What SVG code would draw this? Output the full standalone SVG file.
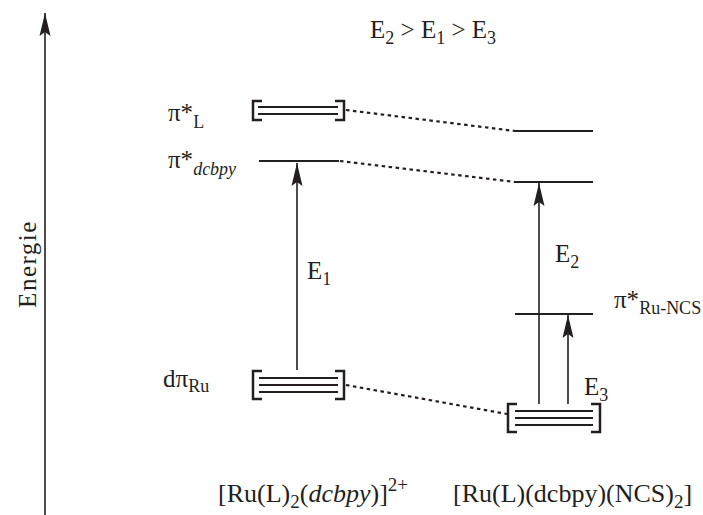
<svg xmlns="http://www.w3.org/2000/svg" width="703" height="515" viewBox="0 0 703 515">
<style>
text{font-family:"Liberation Serif","Times New Roman",serif;font-size:25px;fill:#231f20}
.lvl{stroke:#231f20;stroke-width:2;fill:none}
.br{stroke:#231f20;stroke-width:2.5;fill:none}
.dot{stroke:#231f20;stroke-width:2.2;stroke-dasharray:3.5 3.5;fill:none}
.arr{stroke:#231f20;stroke-width:1.6;fill:none;marker-end:url(#ah)}
.sub{font-size:18px}
.lab{font-size:26px}
.lab .sub{font-size:19px}
</style>
<defs>
<marker id="ah" markerUnits="userSpaceOnUse" markerWidth="26" markerHeight="14" viewBox="-24 -7 26 14" refX="0" refY="0" orient="auto">
<path d="M0,0 L-23,-5.5 L-19,0 L-23,5.5 z" fill="#231f20"/>
</marker>
</defs>
<g id="axis">
<line class="arr" x1="45" y1="515" x2="45" y2="13"/>
<text transform="translate(36,264) rotate(-90)" text-anchor="middle" font-size="26" letter-spacing="1.5">Energie</text>
</g>
<text id="order" x="370" y="38">E<tspan class="sub" dy="6">2</tspan><tspan dy="-6"> &gt; E</tspan><tspan class="sub" dy="6">1</tspan><tspan dy="-6"> &gt; E</tspan><tspan class="sub" dy="6">3</tspan></text>
<g id="piL">
<path class="br" d="M262,101 H253 V120 H262"/>
<path class="br" d="M335,101 H344 V120 H335"/>
<line class="lvl" x1="258" y1="107" x2="338" y2="107"/>
<line class="lvl" x1="258" y1="114" x2="338" y2="114"/>
<text x="168" y="121">π*<tspan class="sub" dy="7">L</tspan></text>
</g>
<g id="pidcbpy">
<line class="lvl" x1="259" y1="161" x2="339" y2="161"/>
<text x="168" y="168">π*<tspan class="sub" dy="7" font-style="italic" font-size="20">dcbpy</tspan></text>
</g>
<g id="dpiRu">
<path class="br" d="M262,371 H253 V399 H262"/>
<path class="br" d="M335,371 H344 V399 H335"/>
<line class="lvl" x1="259" y1="378" x2="338" y2="378"/>
<line class="lvl" x1="259" y1="385" x2="338" y2="385"/>
<line class="lvl" x1="259" y1="392" x2="338" y2="392"/>
<text x="163" y="387">dπ<tspan class="sub" dy="5">Ru</tspan></text>
</g>
<g id="rL">
<line class="lvl" x1="515" y1="131" x2="593" y2="131"/>
</g>
<g id="rdcbpy">
<line class="lvl" x1="515" y1="182" x2="593" y2="182"/>
</g>
<g id="rNCS">
<line class="lvl" x1="515" y1="314" x2="593" y2="314"/>
<text x="614" y="308">π*<tspan class="sub" dy="6">Ru-NCS</tspan></text>
</g>
<g id="rRu">
<path class="br" d="M517,404 H508 V432 H517"/>
<path class="br" d="M591,404 H600 V432 H591"/>
<line class="lvl" x1="515" y1="411" x2="593" y2="411"/>
<line class="lvl" x1="515" y1="418" x2="593" y2="418"/>
<line class="lvl" x1="515" y1="425" x2="593" y2="425"/>
</g>
<g id="connectors">
<line class="dot" x1="346" y1="110" x2="515" y2="131"/>
<line class="dot" x1="340" y1="161" x2="515" y2="182"/>
<line class="dot" x1="346" y1="385" x2="507" y2="414"/>
<line class="arr" x1="297" y1="370" x2="297" y2="163"/>
<line class="arr" x1="539" y1="404" x2="539" y2="183"/>
<line class="arr" x1="568" y1="404" x2="568" y2="315"/>
<text x="307" y="279">E<tspan class="sub" dy="6">1</tspan></text>
<text x="555" y="262">E<tspan class="sub" dy="6">2</tspan></text>
<text x="584" y="395">E<tspan class="sub" dy="6">3</tspan></text>
</g>
<text id="lab1" class="lab" x="218" y="502">[Ru(L)<tspan class="sub" dy="6">2</tspan><tspan dy="-6">(</tspan><tspan font-style="italic">dcbpy</tspan>)]<tspan class="sub" dy="-11">2+</tspan></text>
<text id="lab2" class="lab" x="453" y="502">[Ru(L)(dcbpy)(NCS)<tspan class="sub" dy="6">2</tspan><tspan dy="-6">]</tspan></text>
</svg>
